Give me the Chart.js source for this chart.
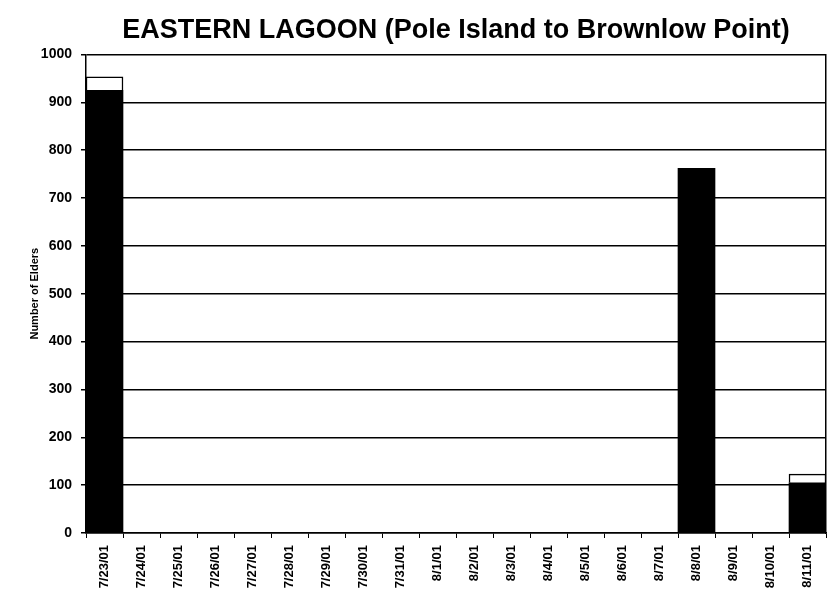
<!DOCTYPE html>
<html>
<head>
<meta charset="utf-8">
<script src="https://cdn.jsdelivr.net/npm/chart.js@4"></script>
<style>
  html, body { margin: 0; padding: 0; background: #fff; }
  #wrap { width: 831px; height: 600px; }
</style>
</head>
<body>
<div id="wrap"><canvas id="chart"></canvas></div>
<script>
// survey dates
var dates = ['7/23/01','7/24/01','7/25/01','7/26/01','7/27/01','7/28/01','7/29/01','7/30/01','7/31/01',
             '8/1/01','8/2/01','8/3/01','8/4/01','8/5/01','8/6/01','8/7/01','8/8/01','8/9/01','8/10/01','8/11/01'];
// black part of each bar
var elders_main = [925,0,0,0,0,0,0,0,0,0,0,0,0,0,0,0,762,0,0,105];
// white part stacked on top
var elders_extra = [28,0,0,0,0,0,0,0,0,0,0,0,0,0,0,0,0,0,0,18];
var yMin = 0, yMax = 1000, yStep = 100;

const fontFam = 'Arial, "Liberation Sans", sans-serif';

// put the title over the plot area instead of the whole canvas
const titleOverPlot = {
    id: 'titleOverPlot',
    afterLayout(chart) {
        var t = chart.titleBlock;
        if (t) {
            t.left = chart.chartArea.left;
            t.right = chart.chartArea.right;
        }
    }
};

var ctx = document.getElementById('chart').getContext('2d');
var chart = new Chart(ctx, {
    type: 'bar',
    data: {
        labels: dates,
        datasets: [{
            label: 'Elders',
            data: elders_main,
            backgroundColor: '#000',
            borderWidth: 0,
            stack: 's'
        }, {
            label: 'Elders (other)',
            data: elders_extra,
            backgroundColor: '#fff',
            borderColor: '#000',
            borderWidth: 1.5,
            stack: 's'
        }]
    },
    options: {
        responsive: true,
        maintainAspectRatio: false,
        animation: false,
        categoryPercentage: 1.0,
        barPercentage: 1.0,
        layout: { padding: { left: 0, right: 5, top: 0, bottom: 0 } },
        plugins: {
            legend: { display: false },
            tooltip: { enabled: false },
            title: {
                display: true,
                text: 'EASTERN LAGOON (Pole Island to Brownlow Point)',
                color: '#000',
                font: { family: fontFam, size: 27, weight: 'bold' },
                padding: { top: 14, bottom: 8 }
            }
        },
        scales: {
            x: {
                stacked: true,
                afterFit: function(s) { s.height = 67; },
                grid: { display: true, drawOnChartArea: false, drawTicks: true, tickLength: 5, color: '#000', offset: true },
                border: { color: '#000', width: 1.5 },
                ticks: {
                    autoSkip: false,
                    minRotation: 90,
                    maxRotation: 90,
                    padding: 7,
                    color: '#000',
                    font: { family: fontFam, size: 13, weight: 'bold' }
                }
            },
            y: {
                stacked: true,
                min: yMin,
                max: yMax,
                afterFit: function(s) { s.width = 86; },
                grid: { color: '#000', lineWidth: 1.5, drawTicks: true, tickLength: 5 },
                border: { color: '#000', width: 1.5 },
                ticks: {
                    stepSize: yStep,
                    padding: 9,
                    color: '#000',
                    font: { family: fontFam, size: 14, weight: 'bold' },
                    callback: function(v) { return String(v); }
                },
                title: {
                    display: true,
                    text: 'Number of Elders',
                    color: '#000',
                    font: { family: fontFam, size: 11, weight: 'bold' },
                    padding: { top: 28, bottom: 0 }
                }
            },
            yRight: {
                position: 'right',
                display: true,
                min: yMin,
                max: yMax,
                afterFit: function(s) { s.width = 0; },
                grid: { drawOnChartArea: false, drawTicks: false },
                border: { color: '#000', width: 1.5 },
                ticks: { display: false }
            }
        }
    },
    plugins: [titleOverPlot]
});
</script>
</body>
</html>
